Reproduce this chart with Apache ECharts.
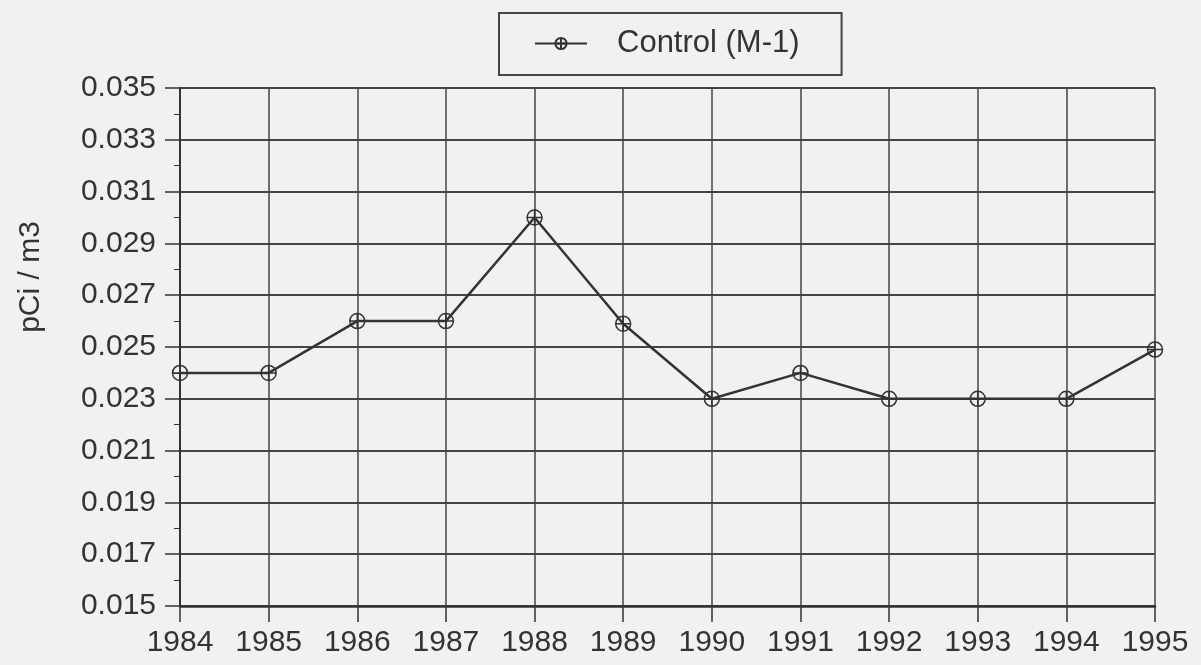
<!doctype html>
<html lang="en">
<head>
    <meta charset="UTF-8">
    <title>Control (M-1)</title>
    <script src="https://cdn.jsdelivr.net/npm/echarts@6/dist/echarts.min.js"></script>
    <style>
        html, body { margin: 0; padding: 0; background: #f1f1f0; }
        #chart { width: 1201px; height: 665px; }
    </style>
</head>
<body>
<div id="chart"></div>
<script type="text/javascript">
    // 数据
    var years = ['1984', '1985', '1986', '1987', '1988', '1989', '1990', '1991', '1992', '1993', '1994', '1995'];
    var controlM1 = [0.024, 0.024, 0.026, 0.026, 0.030, 0.0259, 0.023, 0.024, 0.023, 0.023, 0.023, 0.0249];
    var seriesName = 'Control (M-1)';
    var yName = 'pCi / m3';

    var ink = '#333';
    var font = 'Liberation Sans, Arial, Helvetica, sans-serif';
    // circle with a cross in it
    var crossCircle = 'path://M0,10 A10,10 0 1,1 20,10 A10,10 0 1,1 0,10 Z M0,10 L20,10 M10,0 L10,20';

    var myChart = echarts.init(document.getElementById('chart'));
    var option = {
        backgroundColor: '#f1f1f0',
        animation: false,
        textStyle: { fontFamily: font, color: ink },
        legend: {
            left: 499,
            top: 13,
            padding: [15, 42, 16, 35],
            borderColor: '#444',
            borderWidth: 2,
            itemWidth: 52,
            itemHeight: 14,
            textStyle: { fontSize: 31, color: ink, fontFamily: font, padding: [0, 0, 0, 25] },
            data: [seriesName]
        },
        graphic: [{
            type: 'text',
            x: 31,
            y: 277,
            rotation: Math.PI / 2,
            style: {
                text: yName,
                fontSize: 30,
                fontFamily: font,
                fill: ink,
                align: 'center',
                verticalAlign: 'middle'
            }
        }],
        grid: { left: 180, right: 46, top: 88, bottom: 59 },
        xAxis: {
            type: 'category',
            data: years,
            boundaryGap: false,
            axisLine: { lineStyle: { color: ink, width: 2.5 } },
            axisTick: { alignWithLabel: true, length: 16, lineStyle: { color: ink, width: 1.5 } },
            axisLabel: { fontSize: 30, color: ink, margin: 22 },
            splitLine: { show: true, lineStyle: { color: '#444', width: 1.5 } }
        },
        yAxis: {
            type: 'value',
            min: 0.015,
            max: 0.035,
            interval: 0.002,
            axisLine: { show: true, lineStyle: { color: ink, width: 2 } },
            axisTick: { show: true, length: 15, lineStyle: { color: ink, width: 1.5 } },
            minorTick: { show: true, splitNumber: 2, length: 6, lineStyle: { color: ink, width: 1 } },
            axisLabel: { fontSize: 30, color: ink, margin: 24, formatter: function (v) { return v.toFixed(3); } },
            splitLine: { show: true, lineStyle: { color: '#444', width: 2 } }
        },
        series: [{
            name: seriesName,
            type: 'line',
            data: controlM1,
            symbol: crossCircle,
            symbolSize: 15,
            showAllSymbol: true,
            lineStyle: { color: ink, width: 2.5 },
            itemStyle: { color: 'rgba(0,0,0,0)', borderColor: ink, borderWidth: 1.5 }
        }]
    };
    myChart.setOption(option);
</script>
</body>
</html>
